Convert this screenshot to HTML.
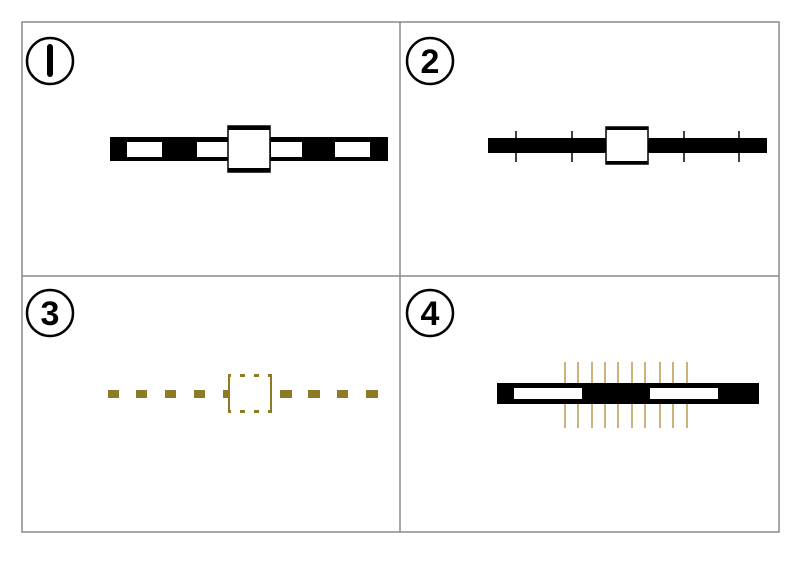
<!DOCTYPE html>
<html><head><style>
body{margin:0;background:#fff;width:800px;height:566px;overflow:hidden}
</style></head><body>
<svg width="800" height="566" xmlns="http://www.w3.org/2000/svg" font-family="Liberation Sans, sans-serif">
<rect x="22" y="22" width="757" height="510" fill="none" stroke="#8a8a8a" stroke-width="1.5"/>
<line x1="400" y1="22" x2="400" y2="532" stroke="#8a8a8a" stroke-width="1.5"/>
<line x1="22" y1="276" x2="779" y2="276" stroke="#8a8a8a" stroke-width="1.5"/>
<!-- circled numbers -->
<g fill="none" stroke="#000" stroke-width="2.5">
<circle cx="50" cy="61" r="23"/><circle cx="430" cy="61" r="23"/>
<circle cx="50" cy="313" r="23"/><circle cx="430" cy="313" r="23"/>
</g>
<g font-size="34" font-weight="bold" text-anchor="middle" fill="#000">
<rect x="47" y="44" width="6" height="33" rx="3"/>
<text x="430" y="73">2</text>
<text x="50" y="325">3</text>
<text x="430" y="325">4</text>
</g>
<!-- panel 1 -->
<rect x="110" y="137" width="278" height="24" fill="#000"/>
<g fill="#fff"><rect x="127" y="142" width="35" height="15"/><rect x="197" y="142" width="31" height="15"/><rect x="271" y="142" width="31" height="15"/><rect x="335" y="142" width="35" height="15"/></g>
<rect x="228" y="126" width="42" height="46" fill="#fff" stroke="#000" stroke-width="1.5"/>
<rect x="228" y="126" width="42" height="4" fill="#000"/><rect x="228" y="168" width="42" height="4" fill="#000"/>
<!-- panel 2 -->
<rect x="488" y="138" width="279" height="15" fill="#000"/>
<g stroke="#000" stroke-width="1.5"><line x1="516" y1="131" x2="516" y2="162"/><line x1="572" y1="131" x2="572" y2="162"/><line x1="684" y1="131" x2="684" y2="162"/><line x1="739" y1="131" x2="739" y2="162"/></g>
<rect x="606" y="127" width="42" height="37" fill="#fff" stroke="#000" stroke-width="1.5"/>
<rect x="606" y="127" width="42" height="3" fill="#000"/><rect x="606" y="161" width="42" height="3" fill="#000"/>
<!-- panel 3 -->
<g fill="#8c7a28">
<rect x="108" y="390" width="11" height="8"/><rect x="136" y="390" width="11" height="8"/><rect x="165" y="390" width="11" height="8"/><rect x="194" y="390" width="11" height="8"/><rect x="223" y="390" width="6" height="8"/>
<rect x="280" y="390" width="12" height="8"/><rect x="308" y="390" width="12" height="8"/><rect x="337" y="390" width="11" height="8"/><rect x="366" y="390" width="12" height="8"/>
<rect x="228" y="374" width="2" height="39"/><rect x="270" y="374" width="2" height="39"/>
<rect x="228" y="374" width="3" height="3"/><rect x="240" y="374" width="5" height="3"/><rect x="254" y="374" width="5" height="3"/><rect x="268" y="374" width="4" height="3"/>
<rect x="228" y="410" width="3" height="3"/><rect x="240" y="410" width="5" height="3"/><rect x="254" y="410" width="5" height="3"/><rect x="268" y="410" width="4" height="3"/>
</g>
<!-- panel 4 -->
<g stroke="#b89a50" stroke-width="1.5">
<line x1="565" y1="362" x2="565" y2="428"/><line x1="578" y1="362" x2="578" y2="428"/><line x1="592" y1="362" x2="592" y2="428"/><line x1="605" y1="362" x2="605" y2="428"/><line x1="618" y1="362" x2="618" y2="428"/><line x1="632" y1="362" x2="632" y2="428"/><line x1="645" y1="362" x2="645" y2="428"/><line x1="660" y1="362" x2="660" y2="428"/><line x1="673" y1="362" x2="673" y2="428"/><line x1="687" y1="362" x2="687" y2="428"/>
</g>
<rect x="497" y="383" width="262" height="21" fill="#000"/>
<rect x="514" y="388" width="68" height="11" fill="#fff"/><rect x="650" y="388" width="68" height="11" fill="#fff"/>
</svg>
</body></html>
